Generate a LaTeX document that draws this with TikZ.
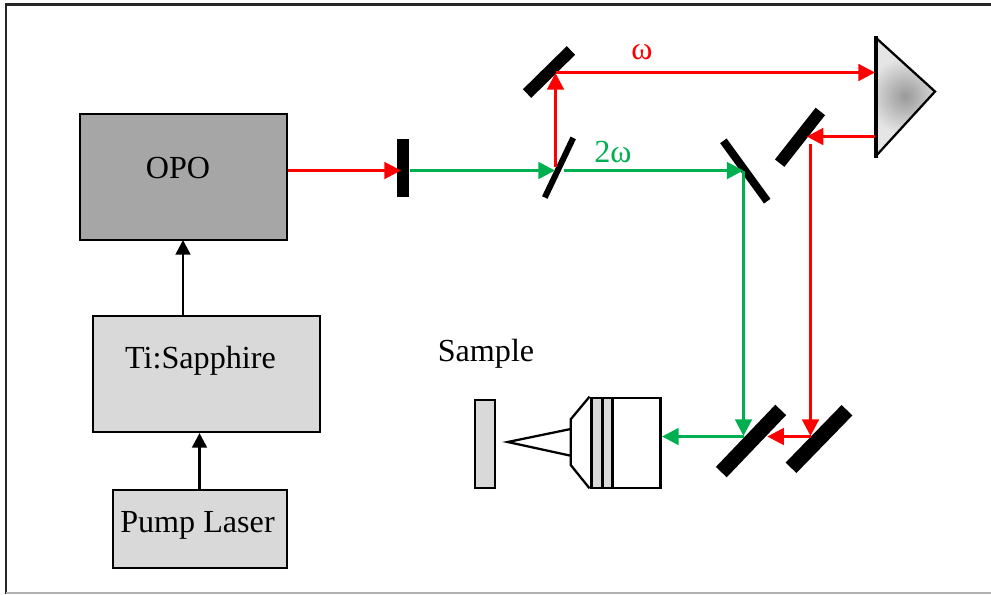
\documentclass[tikz,border=0pt]{standalone}
\usepackage{fontspec}
\setmainfont{Liberation Serif}
\usetikzlibrary{arrows.meta}
\definecolor{beamred}{HTML}{FF0000}
\definecolor{beamgreen}{HTML}{00B050}
\definecolor{boxdark}{HTML}{A6A6A6}
\definecolor{boxlight}{HTML}{D9D9D9}
\tikzset{
  px/.style={x=0.75pt,y=-0.75pt},
  boxnode/.style={draw=black,line width=1.6pt,inner sep=0pt,outer sep=0pt},
  objnode/.style={draw=black,line width=2.1pt,inner sep=0pt,outer sep=0pt},
  mirrorbar/.style={fill=black,inner sep=0pt,outer sep=0pt},
  label text/.style={font=\fontsize{24.1}{28}\selectfont,inner sep=0pt},
  beam/.style={line width=2.2pt,-{Triangle[length=12.5pt,width=12.5pt]}},
  redbeam/.style={beam,draw=beamred,color=beamred},
  greenbeam/.style={beam,draw=beamgreen,color=beamgreen},
  blackarrow/.style={line width=2.1pt,draw=black,-{Triangle[length=11pt,width=11pt]}},
  plainline/.style={draw=black,line width=1.7pt,line join=miter},
}
\begin{document}
\begin{tikzpicture}[px]
\useasboundingbox (0,0) rectangle (991,594);
% outer frame
\draw[line width=1.7pt,draw=black!85] (991,4.5) -- (6,4.5) -- (6,594);
\draw[line width=1.2pt,draw=black!30] (6,593) -- (991,593);
% boxes
\node[boxnode,fill=boxdark,minimum width=207*0.75pt,minimum height=126*0.75pt] (opo) at (183.5,177) {};
\node[boxnode,fill=boxlight,minimum width=227*0.75pt,minimum height=116*0.75pt] (ti) at (206.5,374) {};
\node[boxnode,fill=boxlight,minimum width=174*0.75pt,minimum height=78*0.75pt] (pump) at (200,529) {};
\node[label text] (opotext) at (178,168) {OPO};
\node[label text] (titext) at (200.5,360.5) {Ti:Sapphire};
\node[label text] (pumptext) at (197.5,525.5) {Pump Laser};
\node[label text] (sampletext) at (486,353.5) {Sample};
\node[label text,text=beamred] (omega) at (642,52) {ω};
\node[label text,text=beamgreen] (twoomega) at (613,152) {2ω};
% sample and objective
\node[boxnode,fill=boxlight,line width=1.4pt,minimum width=20*0.75pt,minimum height=87.5*0.75pt] (sample) at (485,444) {};
\draw[plainline] (589.5,396.7) -- (570.7,419.3) -- (570.7,465) -- (589.5,488.3);
\draw[plainline] (570.7,429) -- (507.7,442) -- (570.7,455.7);
\node[objnode,fill=boxlight,minimum width=11*0.75pt,minimum height=90*0.75pt] (ringa) at (596.8,443) {};
\node[objnode,fill=boxlight,minimum width=10*0.75pt,minimum height=90*0.75pt] (ringb) at (607.3,443) {};
\node[objnode,fill=white,minimum width=48*0.75pt,minimum height=90*0.75pt] (objective) at (636.2,443) {};
% prism
\begin{scope}
  \clip (875,37) -- (935,91.5) -- (875,157) -- cycle;
  \fill[black!10] (870,30) rectangle (940,160);
  \shade[inner color=black!40,outer color=black!10] (905,96) circle (38);
\end{scope}
\draw[draw=black,line width=1.7pt,line join=miter] (875,37) -- (935,91.5) -- (875,157);
\draw[draw=black,line width=3pt] (875.5,36) -- (875.5,158);
\coordinate (prismin) at (875,72.5);
\coordinate (prismout) at (875,136.5);
% mirrors
\node[mirrorbar,minimum width=12*0.75pt,minimum height=58*0.75pt] (block) at (403,168) {};
\node[mirrorbar,minimum width=61.5*0.75pt,minimum height=12*0.75pt,rotate=44.5] (m1) at (549,72) {};
\node[mirrorbar,minimum width=66*0.75pt,minimum height=6*0.75pt,rotate=64.5] (bs) at (559,167.7) {};
\node[mirrorbar,minimum width=74.6*0.75pt,minimum height=8*0.75pt,rotate=-54] (m3) at (745.3,171) {};
\node[mirrorbar,minimum width=65.8*0.75pt,minimum height=12*0.75pt,rotate=51.8] (m4) at (800,137.3) {};
\node[mirrorbar,minimum width=86*0.75pt,minimum height=15*0.75pt,rotate=46.3] (m5) at (751,441) {};
\node[mirrorbar,minimum width=80.3*0.75pt,minimum height=15*0.75pt,rotate=45.8] (m6) at (819,439) {};
% beam end points
\coordinate (opoout) at (288,170.5);
\coordinate (blockin) at (401,170.5);
\coordinate (blockout) at (410,170.5);
\coordinate (bsin) at (555,170.5);
\coordinate (bsup) at (555.5,166.7);
\coordinate (m1in) at (555.5,73);
\coordinate (m1out) at (555.5,72.5);
\coordinate (bsout) at (564,170.5);
\coordinate (m3in) at (743.5,170.5);
\coordinate (m3out) at (743.5,171);
\coordinate (m5in) at (743.5,436);
\coordinate (m5out) at (743.5,436.5);
\coordinate (objin) at (662,436.5);
\coordinate (m4in) at (806.7,136.5);
\coordinate (m4out) at (810.5,144);
\coordinate (m6in) at (810.5,436);
\coordinate (m6out) at (810.5,436.5);
\coordinate (m5back) at (767.3,436.5);
\coordinate (opoin) at (183,240);
\coordinate (tiout) at (183,316);
\coordinate (tiin) at (199.5,433);
\coordinate (pumpout) at (199.5,490);
% beams
\draw[redbeam] (opoout) -- (blockin);
\draw[greenbeam] (blockout) -- (bsin);
\draw[redbeam] (bsup) -- (m1in);
\draw[redbeam] (m1out) -- (prismin);
\draw[greenbeam] (bsout) -- (m3in);
\draw[greenbeam] (m3out) -- (m5in);
\draw[greenbeam] (m5out) -- (objin);
\draw[redbeam] (prismout) -- (m4in);
\draw[redbeam] (m4out) -- (m6in);
\draw[redbeam] (m6out) -- (m5back);
\draw[blackarrow] (tiout) -- (opoin);
\draw[blackarrow] (pumpout) -- (tiin);
\end{tikzpicture}
\end{document}
